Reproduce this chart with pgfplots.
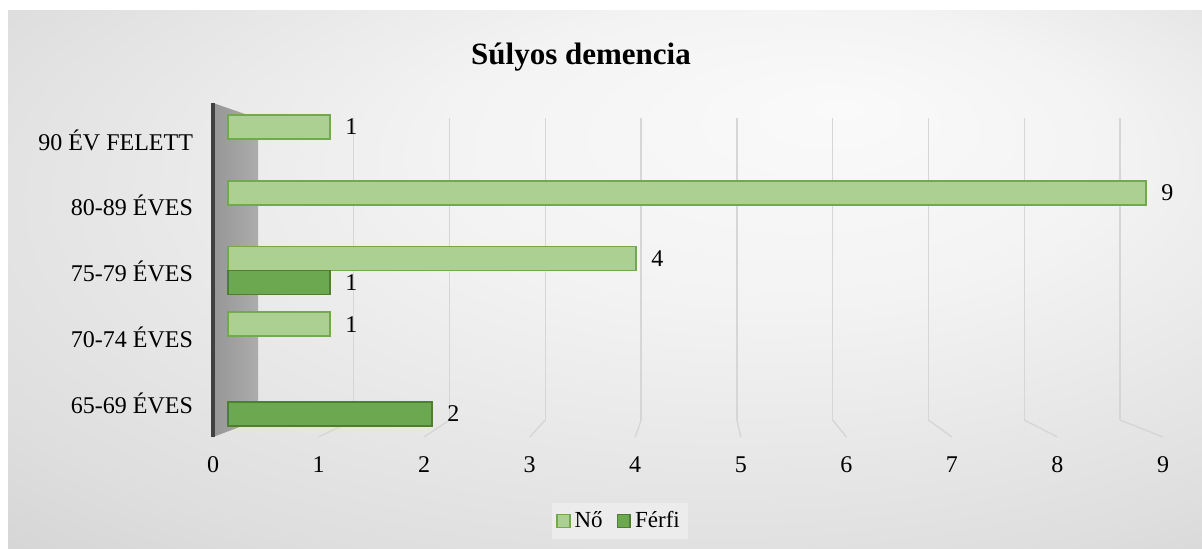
\documentclass[border=0pt]{standalone}
\usepackage{pgfplots}
\pgfplotsset{compat=1.18}
\usepackage{fontspec}
\setmainfont{Liberation Serif}
\definecolor{noFill}{RGB}{172,208,146}
\definecolor{noEdge}{RGB}{112,170,76}
\definecolor{ffFill}{RGB}{108,168,80}
\definecolor{ffEdge}{RGB}{78,126,50}
\definecolor{gridc}{RGB}{214,214,214}
\definecolor{bgIn}{RGB}{250,250,250}
\definecolor{bgMid}{RGB}{243,243,243}
\definecolor{bgMid2}{RGB}{222,222,222}
\definecolor{bgOut}{RGB}{196,196,196}
\definecolor{wallL}{RGB}{150,150,150}
\definecolor{wallR}{RGB}{172,172,172}
\definecolor{wallDark}{RGB}{64,64,64}
\definecolor{legbg}{RGB}{236,236,236}
\pgfdeclareradialshading{chartbg}{\pgfpoint{10bp}{16bp}}{color(0bp)=(bgIn); color(14bp)=(bgMid); color(34bp)=(bgMid2); color(52bp)=(bgOut)}

\begin{document}
\begin{tikzpicture}
\fill[white] (0pt,0pt) rectangle (601pt,274pt);
\shade[shading=chartbg] (4pt,0pt) rectangle (601pt,269pt);

% back wall grid
\begin{axis}[at={(129pt,64pt)}, anchor=south west, scale only axis,
  width=431pt, height=151pt, xmin=0, xmax=9, ymin=0, ymax=1,
  xtick={1,...,9}, xticklabels={}, ytick=\empty,
  xmajorgrids, grid style={draw=gridc, line width=0.7pt},
  axis line style={draw=none}, major tick length=0pt]
\end{axis}

% floor lines and side wall
\foreach \v in {1,...,9}
  \draw[gridc, line width=0.7pt] ({129+\v*47.889pt},64pt) -- ({106.5+\v*52.778pt},55.5pt);
\shade[left color=wallL, right color=wallR] (106.5pt,222.5pt) -- (124pt,216.5pt) -- (129pt,216pt) -- (129pt,64pt) -- (106.5pt,55.5pt) -- cycle;
\draw[line width=2pt, wallDark] (106.5pt,222.5pt) -- (106.5pt,55.5pt);

% bars
\begin{axis}[at={(114pt,55.5pt)}, anchor=south west, scale only axis,
  width=459pt, height=167pt, clip=false,
  xbar, bar width=12pt,
  xmin=0, xmax=9, ymin=-0.517, ymax=4.563,
  xtick=\empty, ytick={0,1,2,3,4},
  yticklabels={65-69 ÉVES,70-74 ÉVES,75-79 ÉVES,80-89 ÉVES,90 ÉV FELETT},
  yticklabel style={font=\fontsize{12pt}{14pt}\selectfont, xshift=-14pt},
  /pgf/number format/assume math mode=true,
  axis line style={draw=none}, major tick length=0pt,
  point meta=x, nodes near coords,
  every node near coord/.append style={anchor=west, xshift=4pt, font=\fontsize{12pt}{14pt}\selectfont, text=black},
  legend style={at={(0.427,-0.2515)}, anchor=center, draw=none, fill=legbg,
    legend columns=2, font=\fontsize{11.5pt}{13pt}\selectfont,
    /tikz/every even column/.append style={column sep=5pt}, inner sep=2pt},
  legend image code/.code={\draw[#1, line width=0.8pt] (0pt,-3.2pt) rectangle (6.4pt,3.2pt);}
]
\addplot[fill=noFill, draw=noEdge, line width=0.8pt, bar shift=6.5pt]
  coordinates {(1,1) (4,2) (9,3) (1,4)};
\addplot[fill=ffFill, draw=ffEdge, line width=0.8pt, bar shift=-5.5pt]
  coordinates {(2,0) (1,2)};
\legend{Nő,Férfi}
\end{axis}

% floor tick labels
\begin{axis}[at={(106.5pt,41.5pt)}, anchor=south west, scale only axis,
  width=475pt, height=4pt, xmin=0, xmax=9, ymin=0, ymax=1,
  xtick={0,...,9}, ytick=\empty,
  xticklabel style={anchor=center, font=\fontsize{12pt}{14pt}\selectfont},
  /pgf/number format/assume math mode=true,
  axis line style={draw=none}, major tick length=0pt]
\end{axis}

\node[font=\bfseries\fontsize{15.5pt}{18pt}\selectfont] at (290.5pt,245.5pt) {Súlyos demencia};
\end{tikzpicture}
\end{document}
